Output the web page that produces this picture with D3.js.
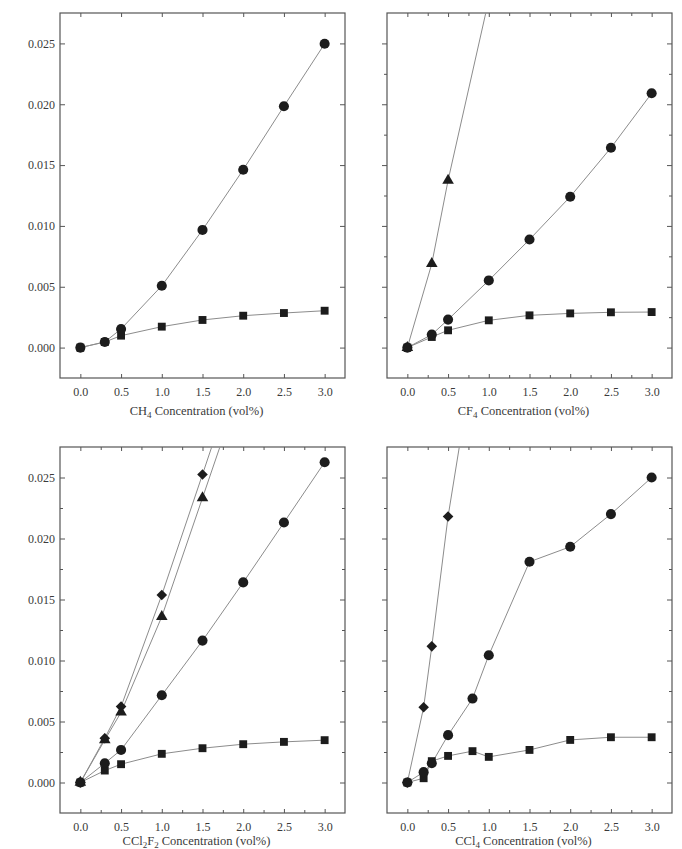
<!DOCTYPE html>
<html>
<head>
<meta charset="utf-8">
<script src="https://cdn.jsdelivr.net/npm/d3@7"></script>
<style>
  body { margin: 0; background: #fff; }
  svg text { font-family: "Liberation Serif", "Times New Roman", Times, "DejaVu Serif", serif; fill: #3a3a3a; }
</style>
</head>
<body>
<div class="chart"></div>
<script>
// x values (vol%)
const concStd = [0, 0.3, 0.5, 1.0, 1.5, 2.0, 2.5, 3.0]
const concCcl4 = [0, 0.2, 0.3, 0.5, 0.8, 1.0, 1.5, 2.0, 2.5, 3.0]

// CH4 panel
const ch4Circle = [0, 0.00046, 0.00153, 0.00508, 0.00967, 0.01462, 0.01984, 0.02497]
const ch4Square = [0, 0.00046, 0.00098, 0.00172, 0.00227, 0.00262, 0.00284, 0.00303]

// CF4 panel
const cf4TriX = [0, 0.3, 0.5, 1.0]
const cf4Triangle = [0, 0.00689, 0.01374, 0.0286]
const cf4Circle = [0, 0.00107, 0.0023, 0.00552, 0.00888, 0.0124, 0.01642, 0.0209]
const cf4Square = [0, 0.00087, 0.00142, 0.00224, 0.00265, 0.00281, 0.0029, 0.00292]

// CCl2F2 panel
const ccl2f2FastX = [0, 0.3, 0.5, 1.0, 1.5, 2.0]
const ccl2f2Diamond = [0, 0.00363, 0.00622, 0.01537, 0.02525, 0.0352]
const ccl2f2Triangle = [0, 0.00349, 0.00576, 0.01359, 0.02333, 0.0331]
const ccl2f2Circle = [0, 0.00158, 0.00267, 0.00715, 0.01163, 0.0164, 0.02131, 0.02625]
const ccl2f2Square = [0, 0.00098, 0.0015, 0.00235, 0.00281, 0.00314, 0.00333, 0.00347]

// CCl4 panel
const ccl4DiaX = [0, 0.2, 0.3, 0.5, 0.8]
const ccl4Diamond = [0, 0.00617, 0.01116, 0.0218, 0.0342]
const ccl4Circle = [0, 0.00085, 0.00158, 0.00388, 0.00688, 0.01043, 0.01809, 0.01932, 0.022, 0.025]
const ccl4Square = [0, 0.00035, 0.00175, 0.00218, 0.00257, 0.0021, 0.00267, 0.00349, 0.00371, 0.00371]

// Ticks
const xTicks = [0, 0.5, 1.0, 1.5, 2.0, 2.5, 3.0]
const xMinor = [0.25, 0.75, 1.25, 1.75, 2.25, 2.75]
const yTicks = [0, 0.005, 0.010, 0.015, 0.020, 0.025]
const yMinor = [0.0025, 0.0075, 0.0125, 0.0175, 0.0225]

const zip = (xs, ys) => xs.map((x, i) => [x, ys[i]])

const panels = [
    {left: 60, top: 13, bottom: 378, yLabels: true, minor: false, leftOut: false, titleDy: 37,
     title: [["CH", 0], ["4", 1], [" Concentration (vol%)", 0]],
     series: [
        {pts: zip(concStd, ch4Square), shape: "square"},
        {pts: zip(concStd, ch4Circle), shape: "circle"}
     ]},
    {left: 387, top: 13, bottom: 378, yLabels: false, minor: true, leftOut: true, titleDy: 37,
     title: [["CF", 0], ["4", 1], [" Concentration (vol%)", 0]],
     series: [
        {pts: zip(concStd, cf4Square), shape: "square"},
        {pts: zip(concStd, cf4Circle), shape: "circle"},
        {pts: zip(cf4TriX, cf4Triangle), shape: "triangle"}
     ]},
    {left: 60, top: 447, bottom: 813, yLabels: true, minor: true, leftOut: false, titleDy: 32,
     title: [["CCl", 0], ["2", 1], ["F", 0], ["2", 1], [" Concentration (vol%)", 0]],
     series: [
        {pts: zip(concStd, ccl2f2Square), shape: "square"},
        {pts: zip(concStd, ccl2f2Circle), shape: "circle"},
        {pts: zip(ccl2f2FastX, ccl2f2Triangle), shape: "triangle"},
        {pts: zip(ccl2f2FastX, ccl2f2Diamond), shape: "diamond"}
     ]},
    {left: 387, top: 447, bottom: 813, yLabels: false, minor: true, leftOut: true, titleDy: 32,
     title: [["CCl", 0], ["4", 1], [" Concentration (vol%)", 0]],
     series: [
        {pts: zip(concCcl4, ccl4Square), shape: "square"},
        {pts: zip(concCcl4, ccl4Circle), shape: "circle"},
        {pts: zip(ccl4DiaX, ccl4Diamond), shape: "diamond"}
     ]}
]

const pw = 285
const frameColor = "#555"
const lineColor = "#8c8c8c"
const markColor = "#1c1c1c"
const fontStack = '"Liberation Serif", "Times New Roman", Times, "DejaVu Serif", serif'

const symbols = {
    circle: d3.symbol().type(d3.symbolCircle).size(80),
    square: d3.symbol().type(d3.symbolSquare).size(62),
    triangle: d3.symbol().type(d3.symbolTriangle).size(58),
    diamond: d3.symbol().type(d3.symbolSquare).size(56)
}

const svg = d3.select('.chart').append('svg')
    .attr("width", 682)
    .attr("height", 849)
    .attr("font-family", fontStack)

panels.forEach((p, pi) => {
    const ph = p.bottom - p.top
    const xScale = d3.scaleLinear().domain([-0.25, 3.25]).range([0, pw])
    const yScale = d3.scaleLinear().domain([-0.0025, 0.0275]).range([ph, 0])

    const g = svg.append("g")
        .attr("transform", `translate(${p.left},${p.top})`)

    // clip to frame
    g.append("clipPath").attr("id", "clip" + pi)
        .append("rect").attr("width", pw).attr("height", ph)

    // Axes (ticks mirrored on all sides)
    const axes = [
        {ax: d3.axisBottom(xScale), tr: `translate(0,${ph})`, vals: xTicks, minorVals: xMinor, inner: -4, labels: true, pad: 9, fmt: d3.format(".1f")},
        {ax: d3.axisTop(xScale), tr: null, vals: xTicks, minorVals: xMinor, inner: -4, labels: false},
        {ax: d3.axisRight(yScale), tr: `translate(${pw},0)`, vals: yTicks, minorVals: yMinor, inner: -5, labels: false},
        {ax: d3.axisLeft(yScale), tr: null, vals: yTicks, minorVals: yMinor, inner: p.leftOut ? 5 : -5, labels: p.yLabels, pad: 5, fmt: d3.format(".3f")}
    ]
    axes.forEach(a => {
        const ag = g.append("g").attr("class", "axis")
        if (a.tr) ag.attr("transform", a.tr)
        ag.call(a.ax.tickValues(a.vals).tickSizeInner(a.inner).tickSizeOuter(0)
            .tickPadding(a.labels ? a.pad : 0)
            .tickFormat(a.labels ? a.fmt : ""))
        ag.attr("font-family", fontStack)
        ag.select(".domain").remove()
        ag.selectAll("line").attr("stroke", frameColor)
        ag.selectAll("text")
            .attr("fill", "#3a3a3a")
            .style("font-size", "12px")
            .style("font-family", fontStack)
        if (p.minor) {
            const mg = g.append("g")
            if (a.tr) mg.attr("transform", a.tr)
            mg.call(a.ax.tickValues(a.minorVals).tickSizeInner(a.inner > 0 ? 3 : -3).tickFormat(""))
            mg.select(".domain").remove()
            mg.selectAll("line").attr("stroke", frameColor)
        }
    })

    // Frame
    g.append("rect")
        .attr("width", pw)
        .attr("height", ph)
        .attr("fill", "none")
        .attr("stroke", frameColor)
        .attr("stroke-width", 1.2)

    // Series
    const plot = g.append("g").attr("clip-path", `url(#clip${pi})`)
    const line = d3.line().x(d => xScale(d[0])).y(d => yScale(d[1]))

    p.series.forEach(s => {
        plot.append("path")
            .datum(s.pts)
            .attr("d", line)
            .attr("fill", "none")
            .attr("stroke", lineColor)
            .attr("stroke-width", 1)
    })
    p.series.forEach(s => {
        plot.selectAll(null)
            .data(s.pts)
            .enter()
            .append("path")
                .attr("d", symbols[s.shape])
                .attr("transform", d => `translate(${xScale(d[0])},${yScale(d[1])})` + (s.shape === "diamond" ? " rotate(45)" : ""))
                .attr("fill", markColor)
    })

    // Axis title with subscripts
    const title = g.append("text")
        .attr("x", pw / 2 - 6)
        .attr("y", ph + p.titleDy)
        .attr("text-anchor", "middle")
        .style("font-size", "12.5px")
        .style("font-family", fontStack)
    p.title.forEach(([t, sub], i) => {
        const ts = title.append("tspan").text(t)
        if (sub) ts.attr("dy", 3).style("font-size", "9px")
        else if (i > 0) ts.attr("dy", -3)
    })
})
</script>
</body>
</html>
